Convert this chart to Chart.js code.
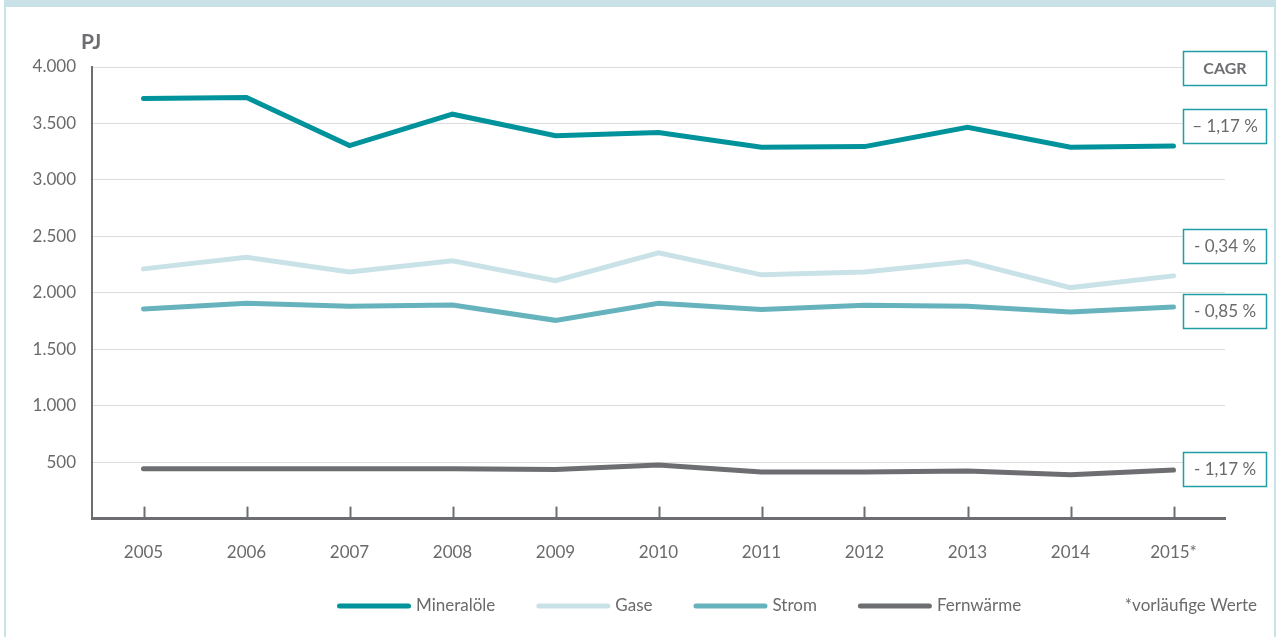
<!DOCTYPE html>
<html lang="de">
<head>
<meta charset="utf-8">
<title>Endenergieverbrauch nach Energieträgern</title>
<script src="https://cdn.jsdelivr.net/npm/chart.js@4/dist/chart.umd.min.js"></script>
<style>
  html, body { margin: 0; padding: 0; background: #fff; }
  #wrap { position: relative; width: 1278px; height: 637px; }
  #frame {
    position: absolute; left: 4px; top: 0; width: 1272px; height: 637px;
    border-left: 2px solid #c9e2e7; border-right: 2px solid #c9e2e7; border-top: 7px solid #c9e2e7;
    box-sizing: border-box; pointer-events: none;
  }
</style>
</head>
<body>
<div id="wrap"><canvas id="c"></canvas><div id="frame"></div></div>
<script>
// Jahre (2015 vorläufig)
const years = ['2005', '2006', '2007', '2008', '2009', '2010', '2011', '2012', '2013', '2014', '2015*'];

// Endenergieverbrauch in PJ
const mineraloele = [3720, 3730, 3304, 3582, 3392, 3419, 3289, 3295, 3466, 3289, 3300];
const gase        = [2212, 2315, 2185, 2283, 2108, 2354, 2159, 2185, 2277, 2046, 2150];
const strom       = [1857, 1907, 1880, 1892, 1756, 1907, 1853, 1889, 1880, 1830, 1875];
const fernwaerme  = [ 442,  442,  442,  442,  436,  475,  413,  413,  422,  389,  430];

// Achse
const yMax = 4000;
const yStep = 500;

// Jährliche Wachstumsraten (CAGR) je Energieträger
const cagrHeader = 'CAGR';
const cagrLabels = ['– 1,17 %', '- 0,34 %', '- 0,85 %', '- 1,17 %'];
const footnote = '*vorläufige Werte';

const FONT = 'Lato, "Open Sans", sans-serif';
const TEXT = '#6a6a6c';
const AXIS = '#6d6e71';
const BOX = '#1f9ea5';

const fmt = v => String(v).replace(/\B(?=(\d{3})+(?!\d))/g, '.');

function line(label, data, color) {
  return {
    label, data,
    borderColor: color, backgroundColor: color,
    borderWidth: 5, pointRadius: 0, pointHoverRadius: 0,
    borderCapStyle: 'round', borderJoinStyle: 'miter', tension: 0, fill: false
  };
}

// Einheit, Tick-Striche, Legende und CAGR-Kästen
const decorations = {
  id: 'decorations',
  afterDatasetsDraw(chart) {
    const ctx = chart.ctx;
    const x = chart.scales.x;
    const area = chart.chartArea;
    ctx.save();
    ctx.strokeStyle = AXIS;
    ctx.lineWidth = 2;
    x.ticks.forEach((t, i) => {
      const px = Math.round(x.getPixelForTick(i)) + 0.5;
      ctx.beginPath();
      ctx.moveTo(px, area.bottom - 12);
      ctx.lineTo(px, area.bottom);
      ctx.stroke();
    });
    ctx.restore();
  },
  afterDraw(chart) {
    const ctx = chart.ctx;
    const area = chart.chartArea;
    ctx.save();

    // Einheit
    ctx.fillStyle = AXIS;
    ctx.font = 'bold 21px ' + FONT;
    ctx.textAlign = 'left';
    ctx.textBaseline = 'middle';
    ctx.fillText('PJ', area.left - 11, 42);

    // Legende
    ctx.font = '17px ' + FONT;
    let lx = 337;
    const ly = 606;
    chart.data.datasets.forEach(ds => {
      ctx.strokeStyle = ds.borderColor;
      ctx.lineWidth = 5;
      ctx.lineCap = 'round';
      ctx.beginPath();
      ctx.moveTo(lx + 2.5, ly);
      ctx.lineTo(lx + 71.5, ly);
      ctx.stroke();
      ctx.fillStyle = TEXT;
      ctx.textAlign = 'left';
      ctx.fillText(ds.label, lx + 79, ly);
      lx += 79 + ctx.measureText(ds.label).width + 41;
    });
    ctx.textAlign = 'right';
    ctx.fillText(footnote, 1257, ly);

    // CAGR-Kästen
    const boxL = 1183.5, boxW = 83, boxH = 34;
    const centers = [67.5, 126, 245.5, 311, 469];
    const texts = [cagrHeader].concat(cagrLabels);
    texts.forEach((t, i) => {
      const top = Math.round(centers[i] - boxH / 2) + 0.5;
      ctx.fillStyle = '#fff';
      ctx.fillRect(boxL, top, boxW, boxH);
      ctx.strokeStyle = BOX;
      ctx.lineWidth = 1.5;
      ctx.strokeRect(boxL, top, boxW, boxH);
      ctx.fillStyle = i === 0 ? AXIS : TEXT;
      ctx.font = (i === 0 ? 'bold 16px ' : '17px ') + FONT;
      ctx.textAlign = 'center';
      ctx.textBaseline = 'middle';
      ctx.fillText(t, boxL + boxW / 2, centers[i] + 1);
    });
    ctx.restore();
  }
};

new Chart(document.getElementById('c'), {
  type: 'line',
  data: {
    labels: years,
    datasets: [
      line('Mineralöle', mineraloele, '#00939b'),
      line('Gase', gase, '#c9e2e7'),
      line('Strom', strom, '#67b3bd'),
      line('Fernwärme', fernwaerme, '#6d6e71')
    ]
  },
  options: {
    responsive: true,
    maintainAspectRatio: false,
    animation: false,
    events: [],
    layout: { padding: { top: 67, right: 53, bottom: 50, left: 0 } },
    plugins: { legend: { display: false }, tooltip: { enabled: false } },
    scales: {
      x: {
        offset: true,
        grid: { display: false, drawTicks: false },
        border: { display: true, color: AXIS, width: 3 },
        ticks: { color: TEXT, font: { family: FONT, size: 17 }, padding: 24, maxRotation: 0 }
      },
      y: {
        min: 0, max: yMax,
        afterFit(scale) { scale.width = 92; },
        grid: {
          drawTicks: false,
          color: ctx => ctx.tick && ctx.tick.value === 0 ? 'rgba(0,0,0,0)' : '#dcdcdc',
          lineWidth: 1
        },
        border: { display: true, color: AXIS, width: 2 },
        ticks: {
          stepSize: yStep, padding: 16, color: TEXT,
          font: { family: FONT, size: 17 },
          callback: v => v === 0 ? '' : fmt(v)
        }
      }
    }
  },
  plugins: [decorations]
});
</script>
</body>
</html>
